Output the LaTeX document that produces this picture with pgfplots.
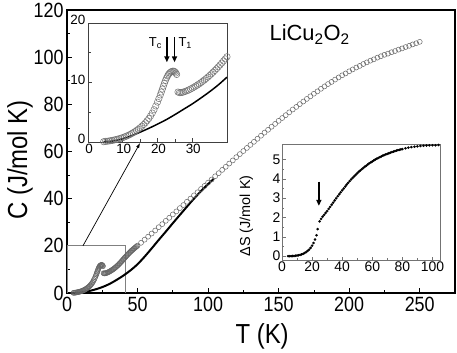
\documentclass[border=0pt]{standalone}
\usepackage{pgfplots}
\pgfplotsset{compat=1.18}
\usepackage{pgfplotstable}
\usepackage{fontspec}
\setmainfont{Liberation Sans}
\usetikzlibrary{arrows.meta}
\newcommand\fs[1]{\fontsize{#1}{#1}\selectfont}

% specific heat, low T part (dense)
\pgfplotstableread{
T C
4.5 0.05
5 0.1
5.5 0.13
6 0.17
6.5 0.22
7 0.27
7.5 0.33
8 0.4
8.5 0.47
9 0.55
9.5 0.64
10 0.74
10.5 0.85
11 0.97
11.5 1.1
12 1.24
12.5 1.4
13 1.57
13.5 1.75
14 1.95
14.5 2.16
15 2.4
15.5 2.65
16 2.93
16.5 3.23
17 3.57
17.5 3.95
18 4.38
18.5 4.87
19 5.42
19.5 6.05
20 6.7
20.4 7.3
20.8 7.9
21.1 8.4
21.4 8.9
21.7 9.4
22 9.9
22.3 10.35
22.6 10.75
22.9 11.1
23.2 11.4
23.5 11.6
23.8 11.75
24.1 11.85
24.4 11.9
24.7 11.9
25 11.8
25.3 11.6
25.5 11.35
25.9 8.4
26.3 8.3
26.7 8.3
27.1 8.35
27.5 8.4
28 8.5
28.5 8.62
29 8.75
29.5 8.9
30 9.05
30.5 9.22
31 9.4
31.5 9.58
32 9.78
32.5 9.98
33 10.2
33.5 10.43
34 10.67
34.5 10.92
35 11.18
35.5 11.45
36 11.73
36.5 12.02
37 12.32
37.5 12.63
38 12.95
38.5 13.28
39 13.62
39.5 13.97
40 14.33
40.5 14.65
41 15.0
41.5 15.3
42 15.65
42.5 15.95
43 16.3
43.5 16.6
44 16.9
44.5 17.2
45 17.5
45.5 17.8
46 18.05
46.5 18.3
47 18.6
47.5 18.85
48 19.1
48.5 19.35
49 19.6
49.5 19.85
50 20.1
}\lowT

% specific heat, high T part
\pgfplotstableread{
T C
52.5 21.3
55 22.6
57.5 23.9
60 25.2
62.5 26.5
65 27.9
67.5 29.2
70 30.6
72.5 31.9
75 33.3
77.5 34.6
80 36.0
82.5 37.3
85 38.7
87.5 40.0
90 41.4
92.5 42.7
95 44.1
97.5 45.4
100 46.8
102.5 48.1
105 49.5
107.5 50.8
110 52.2
112.5 53.5
115 54.9
117.5 56.2
120 57.6
122.5 58.9
125 60.2
127.5 61.5
130 62.8
132.5 64.1
135 65.4
137.5 66.7
140 68.0
142.5 69.2
145 70.5
147.5 71.7
150 73.0
152.5 74.2
155 75.4
157.5 76.6
160 77.8
162.5 78.9
165 80.1
167.5 81.2
170 82.3
172.5 83.4
175 84.5
177.5 85.5
180 86.6
182.5 87.6
185 88.6
187.5 89.5
190 90.5
192.5 91.4
195 92.3
197.5 93.1
200 94.0
202.5 94.8
205 95.6
207.5 96.3
210 97.1
212.5 97.8
215 98.5
217.5 99.1
220 99.8
222.5 100.4
225 101.0
227.5 101.5
230 102.1
232.5 102.6
235 103.2
237.5 103.7
240 104.3
242.5 104.8
245 105.4
247.5 105.9
250 106.5
}\highT

% lattice contribution, main panel
\pgfplotstableread{
T C
5 0.0
10 0.25
15 0.75
20 1.5
25 2.5
30 3.8
35 5.5
40 7.4
45 9.6
50 12.2
55 15.4
60 18.9
65 22.5
70 26.0
75 29.6
80 33.1
85 36.6
90 40.0
95 43.2
100 46.2
104 48.4
}\latMain

% lattice contribution, inset
\pgfplotstableread{
T C
4.5 0.0
7.5 0.2
10 0.55
12.5 1.05
15 1.65
17.5 2.3
20 3.0
22.5 3.75
25 4.6
27.5 5.5
30 6.4
32.5 7.4
35 8.45
37.5 9.6
40 10.9
}\latIns

% magnetic entropy
\pgfplotstableread{
T S
4 0
5 0
6 0
7 0.005
8 0.01
9 0.02
10 0.03
11 0.045
12 0.065
13 0.09
14 0.12
15 0.16
16 0.21
17 0.27
18 0.34
19 0.43
20 0.54
21 0.68
22 0.86
23 1.08
23.7 1.4
25 1.8
26 1.93
27 2.04
28 2.14
29 2.24
30 2.33
31 2.44
32 2.55
33 2.66
34 2.77
35 2.88
36 2.99
37 3.1
38 3.2
39 3.3
40 3.4
41 3.5
42 3.6
43 3.7
44 3.79
45 3.88
46 3.97
47 4.05
48 4.13
49 4.21
50 4.29
51 4.36
52 4.43
53 4.5
54 4.56
55 4.62
56 4.68
57 4.74
58 4.8
59 4.85
60 4.9
61 4.95
62 5.0
63 5.04
64 5.08
65 5.12
66 5.16
67 5.2
68 5.23
69 5.26
70 5.29
71 5.32
72 5.35
73 5.38
74 5.41
75 5.43
76 5.46
77 5.48
78 5.5
79 5.52
80 5.54
82 5.58
84 5.61
86 5.64
88 5.66
90 5.68
92 5.7
94 5.71
96 5.72
98 5.73
100 5.74
102 5.74
104 5.75
}\dS

\begin{document}
\begin{tikzpicture}
\path[use as bounding box] (-67bp,-60bp) rectangle (390bp,293bp);

\begin{axis}[
  name=main, at={(0,0)}, anchor=south west,
  scale only axis, width=388bp, height=283bp,
  xmin=0, xmax=275, ymin=0, ymax=120,
  xtick={0,50,...,250}, ytick={0,20,...,120},
  minor x tick num=1, minor y tick num=1,
  xtick pos=bottom, ytick pos=left, tick align=inside,
  major tick length=5bp, minor tick length=3bp,
  axis line style={line width=1.1bp},
  tick style={black, line width=0.8bp},
  tick label style={font=\fs{18}, yscale=1.15},
  /pgf/number format/assume math mode=true,
  xlabel={T (K)}, ylabel={C (J/mol K)},
  every axis x label/.style={at={(axis description cs:0.503,-0.155)}, anchor=center, font=\fs{24}, yscale=1.15},
  every axis y label/.style={at={(axis description cs:-0.121,0.47)}, anchor=center, rotate=90, font=\fs{24}, yscale=1.15},
]
\draw[gray, line width=0.8bp] (axis cs:0,0) rectangle (axis cs:41.5,20);
\addplot[black, line width=2bp, smooth] table {\latMain};
\addplot[only marks, mark=o, mark size=2.5bp, mark options={draw=black!60, line width=0.5bp}] table {\lowT};
\addplot[only marks, mark=o, mark size=2.5bp, mark options={draw=black!60, line width=0.5bp}] table {\highT};
\draw[-{Latex[length=5bp,width=3.5bp]}, line width=0.7bp] (axis cs:11.3,20) -- (axis cs:51.8,63.6);
\node[font=\fs{22}] at (axis cs:172,109.5) {LiCu\textsubscript{2}O\textsubscript{2}};
\end{axis}

\begin{axis}[
  at={(21bp,151bp)}, anchor=south west,
  scale only axis, width=139bp, height=119bp,
  axis background/.style={fill=white},
  xmin=0, xmax=40, ymin=0, ymax=20,
  xtick={0,10,20,30}, ytick={0,10,20},
  minor x tick num=1, minor y tick num=1,
  xtick pos=bottom, ytick pos=left, tick align=inside,
  major tick length=4bp, minor tick length=2.5bp,
  axis line style={black!75, line width=0.8bp},
  tick style={black!75, line width=0.6bp},
  tick label style={font=\fs{13.5}, inner sep=1.5bp},
  yticklabel style={yshift=3bp, xshift=-1bp},
  xticklabel style={xshift=1bp},
  /pgf/number format/assume math mode=true,
]
\addplot[black, line width=1.5bp, smooth] table {\latIns};
\addplot[only marks, mark=o, mark size=3.2bp, mark options={draw=black!55, line width=0.5bp},
  restrict x to domain=0:40.3] table {\lowT};
\draw[-{Triangle[length=6bp,width=5bp]}, line width=1.5bp] (axis cs:22.7,17.6) -- (axis cs:22.7,13.4);
\draw[-{Triangle[length=6bp,width=5bp]}, line width=1.5bp] (axis cs:24.9,17.6) -- (axis cs:24.9,13.4);
\node[font=\fs{13}] at (axis cs:19.4,16.6) {T\textsubscript{c}};
\node[font=\fs{13}] at (axis cs:28,16.6) {T\textsubscript{1}};
\end{axis}

\begin{axis}[
  at={(215bp,33bp)}, anchor=south west,
  scale only axis, width=158bp, height=116bp,
  axis background/.style={fill=white},
  xmin=0, xmax=105, ymin=-0.2, ymax=5.8,
  xtick={0,20,...,100}, ytick={0,1,...,5},
  minor x tick num=1, minor y tick num=1,
  xtick pos=bottom, ytick pos=left, tick align=inside,
  major tick length=3.5bp, minor tick length=2bp,
  axis line style={black!55, line width=0.8bp},
  tick style={black!55, line width=0.6bp},
  tick label style={font=\fs{14}, inner sep=1.5bp},
  /pgf/number format/assume math mode=true,
  ylabel={ΔS (J/mol K)},
  every axis y label/.style={at={(axis description cs:-0.225,0.38)}, anchor=center, rotate=90, font=\fs{14.5}},
]
\addplot[only marks, mark=*, mark size=1.1bp, black] table {\dS};
\draw[-{Triangle[length=6bp,width=5bp]}, line width=1.4bp] (axis cs:24.5,3.85) -- (axis cs:24.5,2.6);
\end{axis}
\end{tikzpicture}
\end{document}
